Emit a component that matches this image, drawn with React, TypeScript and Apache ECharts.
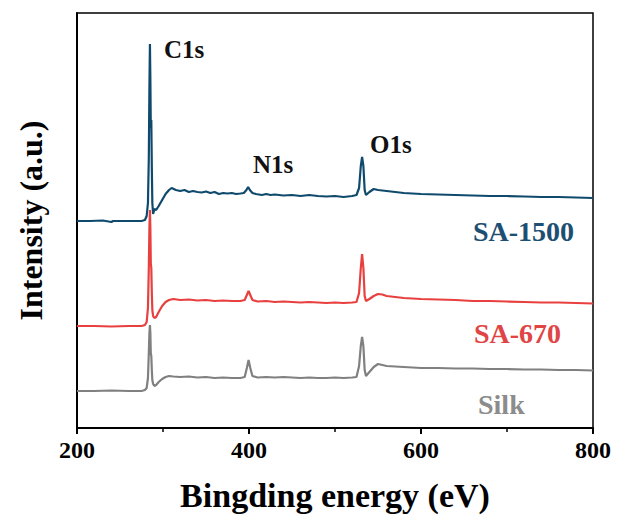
import React, { useEffect, useRef } from "react";
import * as echarts from "echarts";

const xTicks = [200, 400, 600, 800];

const sa1500: [number, number][] = [
  [200, 207], [215, 207], [230, 207.5], [240, 206], [242, 207], [260, 207], [275, 207], [279, 208], [281, 212],
  [282.5, 225], [283.5, 270], [284.2, 340], [284.8, 384], [285.3, 350], [285.8, 300], [286.4, 308], [287, 260],
  [287.6, 225], [288.5, 214], [290, 219], [292, 218], [295, 222], [299, 228], [303, 234], [307, 238], [310, 240],
  [315, 238], [320, 237], [325, 238], [330, 236], [335, 237], [340, 236], [345, 235.5], [350, 236.5], [355, 235],
  [360, 236], [365, 234], [370, 235], [375, 234.5], [380, 235], [385, 234], [390, 234.5], [394, 235], [397, 238],
  [399, 241], [401, 238], [404, 235], [408, 234], [415, 233], [420, 234], [425, 233], [430, 233.5], [440, 232.5],
  [450, 233], [460, 232], [470, 233], [480, 232], [490, 231.5], [500, 232], [510, 231], [520, 232], [525, 233],
  [528, 240], [530, 262], [531.5, 271], [533, 262], [534.5, 238], [536, 233], [540, 236], [545, 239], [550, 238],
  [555, 237.5], [560, 237], [570, 236], [580, 235], [590, 234.5], [600, 234], [620, 233.5], [640, 233],
  [660, 232.5], [680, 232], [700, 232], [720, 231.5], [740, 231], [760, 231], [780, 230.5], [800, 230],
];

const sa670: [number, number][] = [
  [200, 102], [220, 102], [240, 101.5], [260, 102], [275, 102], [279, 103], [281, 106], [282.5, 120], [283.5, 160],
  [284.2, 200], [284.8, 218], [285.3, 200], [285.8, 165], [286.4, 160], [287, 135], [287.6, 118], [288.5, 112],
  [290, 110], [292, 111], [295, 116], [299, 122], [303, 126], [307, 128], [312, 129], [320, 128], [330, 128.5],
  [340, 127.5], [350, 128], [360, 127], [370, 127.5], [380, 127], [390, 127], [395, 128], [397.5, 133],
  [399.5, 137], [401.5, 133], [404, 128], [410, 126.5], [420, 127], [430, 126], [440, 126.5], [450, 126],
  [460, 125.5], [470, 126], [480, 125.5], [490, 125], [500, 125.5], [510, 125], [520, 125.5], [525, 126],
  [528, 135], [530, 160], [531.5, 174], [533, 160], [534.5, 132], [536, 127], [540, 129], [545, 132], [550, 134],
  [555, 133.5], [560, 132], [570, 131], [580, 130], [590, 129.5], [600, 129], [620, 128.5], [640, 128],
  [660, 127], [680, 127], [700, 126.5], [720, 126], [740, 125.5], [760, 125.5], [780, 125], [800, 124.5],
];

const silk: [number, number][] = [
  [200, 37], [220, 37], [240, 37.5], [260, 37], [275, 37], [279, 38], [281, 40], [282.5, 50], [283.5, 75],
  [284.2, 95], [284.8, 103], [285.3, 95], [285.8, 75], [286.4, 72], [287, 58], [287.6, 48], [288.5, 44],
  [290, 42], [292, 43], [295, 46], [299, 49], [303, 51], [307, 52], [312, 51.5], [320, 51], [330, 51.5],
  [340, 50.5], [350, 51], [360, 50], [370, 50.5], [380, 50], [390, 50], [395, 51], [397.5, 60], [399.5, 68],
  [401.5, 60], [404, 52], [410, 50.5], [420, 51], [430, 50.5], [440, 51], [450, 50.5], [460, 50], [470, 50.5],
  [480, 50], [490, 50], [500, 50.5], [510, 50], [520, 50.5], [525, 51], [528, 62], [530, 82], [531.5, 91],
  [533, 82], [534.5, 58], [536, 52], [540, 56], [545, 61], [550, 64], [555, 63], [560, 62], [570, 61.5],
  [580, 61], [590, 60.5], [600, 60], [620, 60], [640, 59.5], [660, 59.5], [680, 59], [700, 59], [720, 58.5],
  [740, 58.5], [760, 58], [780, 58], [800, 57.5],
];

const peakLabels = ["C1s", "N1s", "O1s"];
const sampleLabels = ["SA-1500", "SA-670", "Silk"];

const FONT = "Liberation Serif";

export default function App() {
  const ref = useRef<HTMLDivElement>(null);
  useEffect(() => {
    if (!ref.current) return;
    const chart = echarts.init(ref.current, undefined, { renderer: "svg" });
    const mkText = (text: string, x: number, y: number, size: number, fill: string) => ({
      type: "text",
      x,
      y,
      style: {
        text,
        fill,
        fontFamily: FONT,
        fontWeight: "bold",
        fontSize: size,
        textAlign: "left",
        textVerticalAlign: "middle",
      },
    });
    chart.setOption({
      animation: false,
      backgroundColor: "#fff",
      textStyle: { fontFamily: FONT },
      grid: {
        left: 77,
        right: 24,
        top: 13,
        bottom: 97,
        show: true,
        borderColor: "#000",
        borderWidth: 1.5,
      },
      xAxis: {
        type: "value",
        min: xTicks[0],
        max: xTicks[xTicks.length - 1],
        interval: 200,
        name: "Bingding energy (eV)",
        nameLocation: "middle",
        nameGap: 50,
        nameTextStyle: { fontFamily: FONT, fontWeight: "bold", fontSize: 34, color: "#000" },
        axisLine: { show: true, lineStyle: { color: "#000", width: 2 } },
        axisTick: { show: true, length: 6, lineStyle: { color: "#000", width: 2 } },
        minorTick: { show: true, splitNumber: 2, length: 4, lineStyle: { color: "#000", width: 1.5 } },
        splitLine: { show: false },
        axisLabel: { fontFamily: FONT, fontWeight: "bold", fontSize: 24, color: "#000", margin: 10 },
      },
      yAxis: {
        type: "value",
        min: 0,
        max: 415,
        name: "Intensity (a.u.)",
        nameLocation: "middle",
        nameGap: 30,
        nameTextStyle: { fontFamily: FONT, fontWeight: "bold", fontSize: 32, color: "#000" },
        axisLine: { show: true, lineStyle: { color: "#000", width: 2 } },
        axisTick: { show: false },
        axisLabel: { show: false },
        splitLine: { show: false },
      },
      series: [
        { name: "Silk", type: "line", data: silk, showSymbol: false, lineStyle: { color: "#808080", width: 2.2 }, z: 2 },
        { name: "SA-670", type: "line", data: sa670, showSymbol: false, lineStyle: { color: "#e8403f", width: 2.2 }, z: 3 },
        { name: "SA-1500", type: "line", data: sa1500, showSymbol: false, lineStyle: { color: "#0f4a6d", width: 2.2 }, z: 4 },
      ],
      graphic: [
        mkText(peakLabels[0], 164, 49, 25, "#111"),
        mkText(peakLabels[1], 253, 164, 25, "#111"),
        mkText(peakLabels[2], 370, 144, 25, "#111"),
        mkText(sampleLabels[0], 473, 231, 28, "#1d4f73"),
        mkText(sampleLabels[1], 474, 333, 28, "#e04444"),
        mkText(sampleLabels[2], 478, 404, 28, "#8c8c8c"),
      ],
    });
    return () => chart.dispose();
  }, []);
  return <div ref={ref} style={{ position: "fixed", left: 0, top: 0, width: 617, height: 525 }} />;
}
